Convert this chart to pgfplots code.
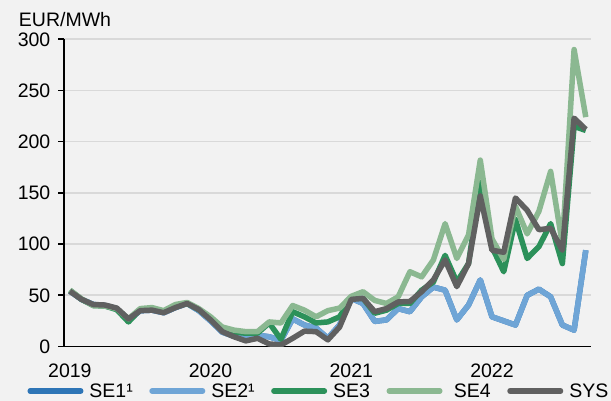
\documentclass[border=0pt]{standalone}
\usepackage{fontspec}
\setmainfont{Liberation Sans}
\usepackage{pgfplots}
\pgfplotsset{compat=1.18}
\usepackage{pgfplotstable}
\definecolor{bgc}{HTML}{F2F2F2}
\definecolor{gridc}{HTML}{D9D9D9}
\definecolor{seone}{RGB}{46,117,182}
\definecolor{setwo}{RGB}{111,165,214}
\definecolor{sethree}{RGB}{44,145,90}
\definecolor{sefour}{RGB}{139,184,145}
\definecolor{sys}{RGB}{96,96,96}
\pgfplotstableread{
i SE1 SE2 SE3 SE4 SYS
0 54 54 55 55 54
1 46 46 46 46.5 46
2 41 41 40 40 41
3 40 40 39.5 39.5 40.5
4 37 37 36 37 37.5
5 26 26 24 27 27
6 35 35 36 37 35
7 35.5 35.5 37 38 35.5
8 33 33 34 35 33
9 38 38 39 41 38
10 42 42 42 43 42
11 35 35 36 37 36
12 25 25 27 29 26
13 14 14 17 19 14.5
14 10 10 14 16 9.5
15 8 8 13 14.5 5.5
16 11 11 13 14.5 8
17 9.5 9.5 23 24 2.5
18 6 6 7 23 1.5
19 27 27 34 40 8
20 21 21 29 35.5 15
21 18 18 23 29 14.5
22 8 8 24 35 6.5
23 21 21 29 37.5 19
24 47 47 47 49 46
25 42 42 47 53.5 47
26 24.5 24.5 32.5 45 34
27 26 26 35.5 42 37
28 37 37 42 48.5 43.5
29 34 34 42 73 44
30 48.5 48.5 55 68 53.5
31 58 58 63 84.5 65
32 55 55 89 120 84.5
33 26 26 63 86 58.5
34 40.5 40.5 81 109 81
35 65 65 160 182 147
36 29 29 97 105 94
37 25 25 73 85 92
38 21 21 124 137 145
39 50 50 86 110 133
40 56 56 97.5 132 114
41 48.5 48.5 120 171 115.5
42 21 21 81 100 94
43 16 16 215 290 223
44 94 94 211 224 212
}\data
\newcommand{\fs}{\fontsize{19.5bp}{23bp}\selectfont}
\begin{document}
\begin{tikzpicture}
\useasboundingbox (0,0) rectangle (611bp,401bp);
\fill[bgc] (0,0) rectangle (611bp,401bp);
\clip (0,0) rectangle (611bp,401bp);
\begin{axis}[
  at={(64bp,54.5bp)}, anchor=south west,
  scale only axis, width=526.5bp, height=307.2bp,
  xmin=-0.5, xmax=44.4, ymin=0, ymax=300,
  axis x line*=bottom, axis y line*=left,
  axis line style={black, line width=1.6bp},
  xtick={0,12,24,36}, xticklabels={2019,2020,2021,2022},
  ytick={0,50,...,300},
  ymajorgrids, grid style={color=gridc, line width=1.6bp},
  x tick style={draw=none},
  y tick style={black, line width=1.6bp},
  tick align=outside, major tick length=5.5bp,
  tick label style={font=\fs},
  /pgf/number format/assume math mode=true,
  xticklabel style={anchor=north, inner sep=0pt, yshift=-11.6bp},
  yticklabel style={anchor=east, inner sep=0pt, xshift=-8bp},
  legend columns=5,
  legend style={at={(axis description cs:-0.0694,-0.1449)}, anchor=west,
    draw=none, fill=none, inner sep=0pt, outer sep=0pt, font=\fs,
    nodes={inner sep=0pt},
    /tikz/every odd column/.append style={column sep=6bp},
    /tikz/every even column/.append style={column sep=16.5bp}},
  legend image code/.code={\draw[#1, line width=5.5bp, line cap=round] (0bp,0bp) -- (50.5bp,0bp);},
  every axis plot/.append style={line width=5.5bp, line join=round},
]
\addplot[seone] table[x=i,y=SE1]{\data};
\addlegendentry{SE1¹}
\addplot[setwo] table[x=i,y=SE2]{\data};
\addlegendentry{SE2¹}
\addplot[sethree] table[x=i,y=SE3]{\data};
\addlegendentry{SE3}
\addplot[sefour] table[x=i,y=SE4]{\data};
\addlegendentry{\hspace*{5.4bp}SE4}
\addplot[sys] table[x=i,y=SYS]{\data};
\addlegendentry{SYS}
\end{axis}
\node[anchor=base, font=\fs, inner sep=0pt] at (65bp,374bp) {EUR/MWh};
\end{tikzpicture}
\end{document}
